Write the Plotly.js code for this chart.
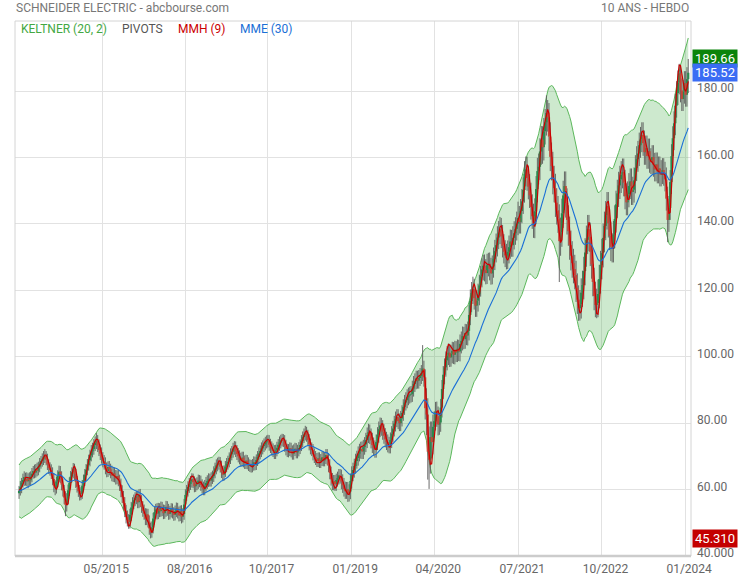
<!DOCTYPE html>
<html><head><meta charset="utf-8">
<script src="https://cdn.plot.ly/plotly-3.0.1.min.js"></script>
<style>html,body{margin:0;padding:0;background:#fff}#chart{width:740px;height:580px}</style>
</head><body><div id="chart"></div>
<script>
// Weekly candles, first week starting Monday 17 Feb 2014
const firstWeek = '2014-02-17';

const opens = [
58.9,59.6,60.8,62.1,62.9,63.8,63.2,62.5,63.4,62.8,
63.9,64.8,65.6,65.1,66.2,65.7,66.9,67.8,68.6,69.1,
69.8,70.1,69.0,67.6,66.5,65.9,65.0,63.2,61.0,60.6,
62.4,64.1,65.4,63.8,61.5,59.7,57.6,55.4,57.2,59.8,
62.0,63.9,65.2,66.1,64.7,62.3,60.8,59.6,58.6,58.9,
61.2,62.8,64.5,66.0,67.4,68.8,70.3,71.5,72.2,73.4,
74.1,74.6,73.2,71.9,70.8,69.6,68.5,68.0,66.4,65.6,
66.8,66.1,65.3,64.2,64.9,64.0,63.4,64.1,62.8,61.5,
59.6,57.8,55.9,53.6,51.8,50.9,50.2,52.4,54.6,55.9,
56.8,57.4,57.9,56.2,58.4,56.5,54.8,53.6,52.7,51.2,
52.5,50.4,48.3,47.1,48.6,51.3,53.2,54.0,52.8,54.2,
53.5,54.6,53.8,52.9,53.6,54.8,53.9,52.7,53.4,54.1,
53.0,52.4,53.5,54.3,53.1,52.2,53.5,51.8,52.6,55.5,
58.4,59.6,60.8,61.7,62.4,63.1,62.2,61.0,61.6,62.0,
62.7,62.5,61.4,60.6,60.1,61.2,62.0,62.6,63.1,62.7,
63.5,64.0,65.2,66.4,67.3,67.8,68.1,66.9,65.3,64.5,
65.6,66.9,67.8,68.4,69.5,70.6,71.4,72.3,72.8,71.6,
70.7,70.0,69.4,68.8,69.6,68.5,68.0,68.7,67.9,67.4,
67.1,66.9,67.5,68.2,67.6,68.9,69.8,70.9,71.6,72.4,
73.1,73.6,74.2,74.5,74.7,73.5,72.8,72.1,71.6,71.0,
71.8,72.6,73.5,74.2,74.8,75.0,74.6,73.2,72.1,71.6,
71.9,72.4,71.5,70.8,71.9,72.3,71.2,71.8,72.5,73.4,
74.6,75.8,76.6,77.1,76.2,74.9,73.6,72.4,71.9,70.6,
69.8,69.2,68.6,69.4,68.3,68.9,69.7,68.8,69.5,70.4,
69.1,67.2,65.0,63.1,61.8,62.5,61.6,62.9,63.5,64.3,
63.8,62.4,61.3,60.2,59.5,60.1,58.8,59.4,62.6,64.8,
65.9,67.1,68.6,69.5,70.8,71.6,72.2,71.5,72.8,73.6,
74.9,76.4,77.3,76.1,74.8,73.4,72.5,72.0,74.3,76.5,
78.2,79.3,78.6,77.4,76.2,75.1,74.3,73.6,73.3,74.9,
76.8,78.4,79.9,81.2,81.8,80.6,80.0,81.4,83.1,84.9,
86.2,86.9,87.8,88.3,88.6,88.8,90.4,91.8,92.6,93.4,
92.8,93.6,94.2,95.1,96.4,93.8,84.5,82.6,71.4,69.0,
75.8,74.3,78.9,80.6,83.4,82.1,79.6,80.2,84.7,90.3,
94.6,96.8,98.9,100.4,101.2,99.8,100.9,101.8,100.6,102.1,
101.3,102.4,101.6,103.9,104.8,106.2,105.3,107.1,106.4,107.8,
112.6,116.8,119.2,120.3,117.6,115.4,116.9,118.8,121.5,124.2,
126.3,127.4,126.1,125.2,127.6,128.0,126.4,125.1,127.2,129.5,
131.8,133.6,135.9,137.4,138.3,136.2,133.4,131.6,130.5,129.8,
131.6,133.0,134.7,133.6,135.8,137.2,138.5,140.1,141.8,140.6,
143.9,146.8,150.2,155.1,156.4,153.8,151.2,148.6,145.1,142.3,
139.6,143.8,150.5,155.9,157.2,161.8,165.4,163.1,167.9,170.6,
173.4,172.1,166.3,160.2,157.4,153.2,150.8,146.4,144.1,141.6,
134.8,137.5,143.2,148.6,151.4,146.3,141.2,137.8,133.6,130.4,
128.2,126.4,124.6,120.8,117.2,114.6,115.8,119.3,121.6,125.8,
131.4,135.2,138.4,136.1,131.6,127.8,122.5,118.3,115.6,116.2,
118.9,123.4,127.6,131.2,135.8,139.4,142.6,145.3,140.2,136.4,
133.1,132.5,136.8,141.5,145.9,149.2,151.6,153.4,154.8,155.6,
152.4,148.3,146.5,148.9,151.4,152.8,149.6,150.3,153.1,156.8,
159.5,161.2,163.7,165.4,166.8,164.3,161.6,162.8,160.4,161.9,
159.2,158.6,160.1,157.8,156.4,157.9,155.8,156.7,154.9,155.6,
156.2,155.1,153.4,147.6,141.2,144.8,152.6,160.4,165.8,170.3,
175.6,179.4,182.6,185.3,180.2,177.6,179.8,182.4,178.9,183.6
];

const highs = [
61.1,62.6,63.5,64.8,65.5,65.1,65.2,64.9,65.2,65.5,
66.5,67.1,67.5,67.7,68.1,68.4,69.5,70.1,70.9,71.6,
72.2,71.6,70.8,69.1,68.2,67.6,66.7,64.9,62.8,63.9,
65.8,67.2,67.1,65.5,63.3,61.4,59.5,58.9,61.5,63.7,
65.6,66.7,68.0,67.8,66.2,64.1,62.5,61.4,60.7,62.9,
64.5,66.2,67.7,69.2,70.5,72.0,73.4,74.1,75.2,76.0,
77.0,76.4,75.1,73.6,72.7,71.3,70.4,69.7,68.2,68.5,
68.6,67.8,67.2,66.7,66.6,65.9,65.8,66.0,64.5,63.3,
61.3,59.6,57.7,55.4,53.7,52.6,54.2,56.3,57.7,58.5,
59.2,59.6,59.7,60.1,60.2,58.3,56.5,55.5,54.4,54.3,
54.2,52.2,50.0,50.4,53.0,54.9,55.7,55.9,56.0,55.9,
56.4,56.3,55.5,55.4,56.6,56.5,55.7,55.1,55.9,55.8,
54.7,55.2,56.1,56.0,54.9,55.2,55.3,54.4,57.2,60.1,
61.4,62.5,63.5,64.1,64.9,64.8,64.0,63.4,63.7,64.5,
64.4,64.2,63.1,62.4,62.9,63.8,64.3,64.9,64.8,65.2,
65.7,67.0,68.1,69.1,69.6,69.9,69.8,68.7,67.1,67.3,
68.6,69.5,70.2,71.2,72.4,73.1,74.1,74.6,74.5,73.4,
72.5,71.8,71.1,71.4,71.4,70.3,70.5,70.4,69.7,69.1,
68.9,69.2,70.0,69.9,70.6,71.6,72.7,73.3,74.2,74.8,
75.4,75.9,76.3,76.5,76.4,75.3,74.5,73.9,73.4,73.5,
74.4,75.2,76.0,76.5,76.8,76.7,76.4,75.0,73.8,73.7,
74.2,74.1,73.3,73.6,74.1,74.0,73.5,74.3,75.1,76.4,
77.5,78.4,79.2,78.9,78.0,76.7,75.4,74.2,73.7,72.4,
71.6,71.0,71.2,71.2,70.7,71.5,71.5,71.3,72.2,72.2,
70.9,69.1,66.9,65.0,64.4,64.4,64.8,65.4,66.2,66.2,
66.0,64.6,63.5,62.4,62.3,62.3,61.6,64.8,67.0,68.1,
69.3,70.8,71.7,73.0,73.8,74.4,74.5,75.0,75.8,77.1,
78.7,79.8,79.6,78.4,77.1,75.7,74.8,76.6,78.8,80.5,
81.7,81.6,80.9,79.7,78.5,77.4,76.6,75.9,77.2,79.1,
80.7,82.2,83.5,84.2,84.2,82.9,83.7,85.4,87.2,88.5,
89.3,90.2,90.7,91.0,91.2,92.8,94.2,95.0,95.8,95.8,
96.0,96.6,97.5,103.5,98.8,96.2,90.5,87.5,79.0,80.5,
80.5,82.6,83.6,86.4,86.5,85.0,83.1,87.3,93.0,97.2,
99.5,101.6,103.2,104.0,103.9,103.6,104.5,104.4,104.8,104.7,
105.2,105.1,106.7,107.6,109.1,109.0,109.9,109.8,110.6,115.5,
120.3,122.5,124.1,123.5,120.7,120.0,122.0,124.7,127.4,129.6,
130.7,130.8,129.4,131.0,131.3,131.4,129.8,130.5,132.9,135.2,
137.1,139.3,140.9,142.1,141.8,139.7,136.9,135.1,134.0,135.0,
136.5,138.3,138.2,139.3,140.8,142.0,143.7,146.7,145.4,147.5,
150.5,154.0,158.9,160.3,160.2,157.6,155.0,152.4,148.9,146.1,
147.7,154.4,159.9,161.2,165.8,169.5,169.4,171.9,174.6,178.7,
177.3,176.4,170.6,164.5,161.7,157.5,155.1,150.7,148.4,145.9,
141.9,147.6,153.0,155.8,155.8,150.7,145.6,142.2,138.0,134.8,
132.5,130.7,128.9,125.1,121.5,120.1,123.6,125.9,130.1,135.7,
139.5,142.7,142.7,140.4,135.9,132.1,126.8,122.6,120.5,123.2,
127.7,131.9,135.5,140.1,143.7,146.9,149.6,149.6,144.5,140.7,
137.2,140.9,145.6,150.0,153.3,155.7,157.5,158.9,159.7,159.7,
156.3,152.2,152.8,155.3,156.7,156.7,154.2,157.0,160.7,163.4,
165.0,167.5,169.2,170.6,170.6,168.1,166.6,166.6,165.7,165.7,
162.8,163.7,163.7,161.4,161.5,161.5,160.3,160.3,159.2,159.8,
159.8,158.7,157.0,151.2,148.4,156.2,164.0,169.4,173.9,179.2,
183.0,186.2,188.2,187.9,183.8,183.4,186.0,186.0,187.2,189.66
];

const lows = [
57.2,58.2,58.9,60.6,61.1,61.2,61.0,60.4,61.2,61.4,
62.2,63.3,63.4,63.6,64.0,64.3,65.2,66.3,66.9,67.4,
68.0,67.3,65.9,64.7,64.2,63.2,61.4,59.2,58.3,58.8,
60.7,62.3,62.0,59.8,57.9,55.6,52.0,53.4,55.5,58.1,
60.3,62.2,63.4,62.9,60.5,59.1,57.8,56.7,56.8,57.2,
59.5,61.1,62.7,64.3,65.7,67.0,68.5,69.7,70.5,71.6,
72.2,71.3,70.1,68.9,67.8,66.7,66.0,64.6,63.7,63.8,
64.3,63.4,62.5,62.3,62.2,61.5,61.6,61.0,59.6,57.7,
56.0,53.9,51.7,49.8,48.9,48.2,48.3,50.6,52.7,54.1,
55.0,55.6,54.4,54.4,54.7,53.0,51.8,50.9,49.3,49.3,
48.6,46.4,45.31,45.5,46.8,49.5,51.4,51.0,51.1,51.7,
51.8,52.0,51.1,51.2,51.8,52.1,50.9,51.0,51.6,51.3,
50.6,50.7,51.7,51.3,50.4,50.5,49.8,50.1,50.9,53.7,
56.6,57.9,59.0,59.9,60.6,60.4,59.2,59.3,59.8,60.2,
60.7,59.6,58.8,58.3,58.3,59.4,60.2,60.8,60.9,60.9,
61.7,62.3,63.4,64.6,65.5,66.0,65.1,63.5,62.7,62.7,
63.8,65.2,66.0,66.7,67.7,68.8,69.6,70.5,69.8,68.9,
68.2,67.6,67.0,67.0,66.7,66.2,66.2,66.1,65.6,65.3,
65.1,65.2,65.7,65.8,65.9,67.1,68.0,69.1,69.8,70.6,
71.3,71.8,72.4,72.7,71.7,71.0,70.3,69.8,69.2,69.2,
70.0,70.8,71.7,72.4,73.0,72.8,71.4,70.3,69.8,69.7,
70.1,69.7,69.0,69.0,70.1,69.4,69.4,70.0,70.7,71.6,
72.8,74.0,74.8,74.4,73.1,71.8,70.6,70.1,68.8,68.0,
67.4,66.8,66.8,66.5,66.5,67.1,67.0,67.0,67.7,67.3,
65.3,63.1,61.2,59.8,59.8,59.6,59.6,60.9,61.5,61.8,
60.1,59.0,57.9,57.2,57.2,56.3,56.4,57.1,60.3,62.5,
63.6,64.8,66.3,67.2,68.5,69.3,69.2,69.2,70.5,71.3,
72.5,74.0,73.7,72.4,71.0,70.1,69.6,69.6,71.9,74.1,
75.8,76.2,75.0,73.8,72.7,71.9,71.2,70.9,70.9,72.5,
74.4,76.0,77.5,78.8,78.2,77.6,77.6,79.0,80.7,82.5,
83.8,84.5,85.4,85.9,86.2,86.4,88.0,89.4,90.2,90.4,
90.4,91.2,91.8,92.7,91.0,81.1,76.4,63.0,60.2,64.8,
69.4,70.6,75.7,77.8,78.9,76.3,76.5,77.4,81.7,87.3,
91.7,94.0,95.9,97.5,96.9,97.0,98.0,97.8,97.7,98.4,
98.4,98.7,98.6,101.0,101.9,102.3,102.4,103.5,103.4,104.9,
109.5,113.4,115.9,114.2,112.0,112.0,113.6,115.5,118.1,120.9,
123.0,122.7,121.8,121.9,124.2,123.0,121.7,121.8,123.8,126.1,
128.4,130.2,132.4,133.9,132.7,129.9,128.1,127.0,126.3,126.4,
128.1,129.5,130.1,130.1,132.3,133.7,135.0,136.6,137.1,137.1,
140.2,143.0,146.4,151.3,150.0,147.4,144.8,141.3,138.5,135.8,
135.7,139.9,146.5,151.9,153.2,157.8,158.1,159.1,163.9,166.6,
167.8,162.0,155.9,153.1,148.9,146.5,142.1,139.8,137.3,122.5,
130.4,133.1,138.8,144.2,141.9,136.8,133.4,129.2,126.0,123.8,
122.1,120.3,116.5,112.9,110.8,110.9,111.5,115.0,117.3,121.5,
127.1,130.9,131.8,127.3,123.5,118.2,114.0,111.9,111.6,111.9,
114.6,119.1,123.3,126.9,131.5,135.1,138.3,135.9,132.1,128.8,
128.4,128.4,132.7,137.4,141.8,145.1,147.5,149.3,150.7,148.3,
144.4,142.6,142.6,145.0,147.5,145.7,145.7,146.4,149.2,152.9,
155.7,157.4,159.9,161.6,160.5,157.8,157.8,156.6,156.6,155.4,
155.0,155.0,154.2,152.8,152.8,152.2,152.2,151.3,151.3,152.0,
151.5,149.8,144.0,134.5,137.6,141.2,149.0,156.8,162.2,166.7,
172.0,175.8,179.0,176.6,174.0,174.0,176.2,175.3,175.3,179.4
];

const closes = [
59.6,60.8,62.1,62.9,63.8,63.2,62.5,63.4,62.8,63.9,
64.8,65.6,65.1,66.2,65.7,66.9,67.8,68.6,69.1,69.8,
70.1,69.0,67.6,66.5,65.9,65.0,63.2,61.0,60.6,62.4,
64.1,65.4,63.8,61.5,59.7,57.6,55.4,57.2,59.8,62.0,
63.9,65.2,66.1,64.7,62.3,60.8,59.6,58.6,58.9,61.2,
62.8,64.5,66.0,67.4,68.8,70.3,71.5,72.2,73.4,74.1,
74.6,73.2,71.9,70.8,69.6,68.5,68.0,66.4,65.6,66.8,
66.1,65.3,64.2,64.9,64.0,63.4,64.1,62.8,61.5,59.6,
57.8,55.9,53.6,51.8,50.9,50.2,52.4,54.6,55.9,56.8,
57.4,57.9,56.2,58.4,56.5,54.8,53.6,52.7,51.2,52.5,
50.4,48.3,47.1,48.6,51.3,53.2,54.0,52.8,54.2,53.5,
54.6,53.8,52.9,53.6,54.8,53.9,52.7,53.4,54.1,53.0,
52.4,53.5,54.3,53.1,52.2,53.5,51.8,52.6,55.5,58.4,
59.6,60.8,61.7,62.4,63.1,62.2,61.0,61.6,62.0,62.7,
62.5,61.4,60.6,60.1,61.2,62.0,62.6,63.1,62.7,63.5,
64.0,65.2,66.4,67.3,67.8,68.1,66.9,65.3,64.5,65.6,
66.9,67.8,68.4,69.5,70.6,71.4,72.3,72.8,71.6,70.7,
70.0,69.4,68.8,69.6,68.5,68.0,68.7,67.9,67.4,67.1,
66.9,67.5,68.2,67.6,68.9,69.8,70.9,71.6,72.4,73.1,
73.6,74.2,74.5,74.7,73.5,72.8,72.1,71.6,71.0,71.8,
72.6,73.5,74.2,74.8,75.0,74.6,73.2,72.1,71.6,71.9,
72.4,71.5,70.8,71.9,72.3,71.2,71.8,72.5,73.4,74.6,
75.8,76.6,77.1,76.2,74.9,73.6,72.4,71.9,70.6,69.8,
69.2,68.6,69.4,68.3,68.9,69.7,68.8,69.5,70.4,69.1,
67.2,65.0,63.1,61.8,62.5,61.6,62.9,63.5,64.3,63.8,
62.4,61.3,60.2,59.5,60.1,58.8,59.4,62.6,64.8,65.9,
67.1,68.6,69.5,70.8,71.6,72.2,71.5,72.8,73.6,74.9,
76.4,77.3,76.1,74.8,73.4,72.5,72.0,74.3,76.5,78.2,
79.3,78.6,77.4,76.2,75.1,74.3,73.6,73.3,74.9,76.8,
78.4,79.9,81.2,81.8,80.6,80.0,81.4,83.1,84.9,86.2,
86.9,87.8,88.3,88.6,88.8,90.4,91.8,92.6,93.4,92.8,
93.6,94.2,95.1,96.4,93.8,84.5,82.6,71.4,69.0,75.8,
74.3,78.9,80.6,83.4,82.1,79.6,80.2,84.7,90.3,94.6,
96.8,98.9,100.4,101.2,99.8,100.9,101.8,100.6,102.1,101.3,
102.4,101.6,103.9,104.8,106.2,105.3,107.1,106.4,107.8,112.6,
116.8,119.2,120.3,117.6,115.4,116.9,118.8,121.5,124.2,126.3,
127.4,126.1,125.2,127.6,128.0,126.4,125.1,127.2,129.5,131.8,
133.6,135.9,137.4,138.3,136.2,133.4,131.6,130.5,129.8,131.6,
133.0,134.7,133.6,135.8,137.2,138.5,140.1,141.8,140.6,143.9,
146.8,150.2,155.1,156.4,153.8,151.2,148.6,145.1,142.3,139.6,
143.8,150.5,155.9,157.2,161.8,165.4,163.1,167.9,170.6,173.4,
172.1,166.3,160.2,157.4,153.2,150.8,146.4,144.1,141.6,134.8,
137.5,143.2,148.6,151.4,146.3,141.2,137.8,133.6,130.4,128.2,
126.4,124.6,120.8,117.2,114.6,115.8,119.3,121.6,125.8,131.4,
135.2,138.4,136.1,131.6,127.8,122.5,118.3,115.6,116.2,118.9,
123.4,127.6,131.2,135.8,139.4,142.6,145.3,140.2,136.4,133.1,
132.5,136.8,141.5,145.9,149.2,151.6,153.4,154.8,155.6,152.4,
148.3,146.5,148.9,151.4,152.8,149.6,150.3,153.1,156.8,159.5,
161.2,163.7,165.4,166.8,164.3,161.6,162.8,160.4,161.9,159.2,
158.6,160.1,157.8,156.4,157.9,155.8,156.7,154.9,155.6,156.2,
155.1,153.4,147.6,141.2,144.8,152.6,160.4,165.8,170.3,175.6,
179.4,182.6,185.3,180.2,177.6,179.8,182.4,178.9,183.6,185.52
];

const xTickDates = ['2015-05-15','2016-08-10','2017-10-28','2019-01-25','2020-04-20','2021-07-20','2022-10-15','2024-01-12'];
const xTickText  = ['05/2015','08/2016','10/2017','01/2019','04/2020','07/2021','10/2022','01/2024'];
const yTickVals  = [40,60,80,100,120,140,160,180];
const yTickText  = ['40.000','60.00','80.00','100.00','120.00','140.00','160.00','180.00'];

// ---- dates ----
const t0 = Date.parse(firstWeek + 'T00:00:00Z');
const dates = closes.map((_, i) => new Date(t0 + i * 7 * 864e5).toISOString().slice(0, 10));

// ---- indicators (computed from the candles) ----
function ema(arr, n) {
  const a = 2 / (n + 1); let e = arr[0];
  return arr.map((v, i) => (e = i ? a * v + (1 - a) * e : v));
}
function wma(arr, n) {
  return arr.map((v, i) => {
    let s = 0, w = 0;
    for (let k = 0; k < n && i - k >= 0; k++) { s += arr[i - k] * (n - k); w += (n - k); }
    return s / w;
  });
}
const w4 = wma(closes, 4), w9 = wma(closes, 9);
const hma = wma(w4.map((v, i) => 2 * v - w9[i]), 3);
const ema30 = ema(closes, 30);
const mid20 = ema(closes, 20);
const tr = closes.map((c, i) => i ? Math.max(highs[i], closes[i - 1]) - Math.min(lows[i], closes[i - 1]) : highs[i] - lows[i]);
const atr = tr.map((_, i) => { let s = 0, n = 0; for (let k = Math.max(0, i - 19); k <= i; k++) { s += tr[k]; n++; } return s / n; });
const kUp = mid20.map((m, i) => m + 2 * atr[i]);
const kLo = mid20.map((m, i) => m - 2 * atr[i]);

// ---- candle geometry ----
const wx = [], wy = [], ux = [], uy = [], dx = [], dy = [];
dates.forEach((d, i) => {
  wx.push(d, d, null); wy.push(lows[i], highs[i], null);
  if (closes[i] >= opens[i]) { ux.push(d, d, null); uy.push(opens[i], closes[i], null); }
  else { dx.push(d, d, null); dy.push(opens[i], closes[i], null); }
});

const maxHigh = Math.max(...highs), minLow = Math.min(...lows), lastClose = closes[closes.length - 1];

const traces = [
  {x: dates, y: kLo, mode: 'lines', line: {color: '#5cb85c', width: 1}, hoverinfo: 'skip'},
  {x: dates, y: kUp, mode: 'lines', fill: 'tonexty', fillcolor: 'rgba(76,175,80,0.28)', line: {color: '#5cb85c', width: 1}, hoverinfo: 'skip'},
  {x: wx, y: wy, mode: 'lines', line: {color: '#5a5a5a', width: 0.9}, hoverinfo: 'skip'},
  {x: ux, y: uy, mode: 'lines', line: {color: '#2a8a4e', width: 2.2}, hoverinfo: 'skip'},
  {x: dx, y: dy, mode: 'lines', line: {color: '#c4473a', width: 2.2}, hoverinfo: 'skip'},
  {x: dates, y: hma, mode: 'lines', line: {color: '#cc0000', width: 1.2}, hoverinfo: 'skip'},
  {x: dates, y: ema30, mode: 'lines', line: {color: '#1a6fd6', width: 1.1}, hoverinfo: 'skip'}
];

const F = 'Roboto, sans-serif';
function legendItem(text, color, px) {
  return {text, xref: 'paper', yref: 'paper', x: (px - 15) / 676, y: 1, xanchor: 'left', yanchor: 'middle', yshift: -8,
          showarrow: false, font: {family: F, size: 12, color}};
}
function tag(val, text, bg) {
  return {text, xref: 'paper', yref: 'y', x: 1, y: val, xanchor: 'left', yanchor: 'middle', xshift: 1,
          showarrow: false, bgcolor: bg, borderpad: 1, width: 42, align: 'center',
          font: {family: F, size: 13, color: '#ffffff'}};
}

const layout = {
  width: 740, height: 580,
  margin: {l: 15, r: 49, t: 21, b: 24, pad: 0},
  paper_bgcolor: '#ffffff', plot_bgcolor: '#ffffff',
  showlegend: false,
  font: {family: F, size: 12, color: '#666666'},
  xaxis: {type: 'date', range: ['2014-01-26', '2024-02-13'], tickvals: xTickDates, ticktext: xTickText,
          showgrid: true, gridcolor: '#e2e2e2', gridwidth: 1, zeroline: false, showline: false, ticks: '',
          tickfont: {family: F, size: 12, color: '#666666'}, ticklabelshift: 4, ticklabelstandoff: 4},
  yaxis: {side: 'right', range: [40, 201.1], tickvals: yTickVals, ticktext: yTickText,
          showgrid: true, gridcolor: '#e2e2e2', gridwidth: 1, zeroline: false, showline: false, ticks: '',
          tickfont: {family: F, size: 12, color: '#666666'}, ticklabelstandoff: 5, ticklabelshift: -3},
  shapes: [
    {type: 'rect', xref: 'paper', yref: 'paper', x0: 0, x1: 1, y0: 0, y1: 1, line: {color: '#d4d4d4', width: 1}},
    {type: 'line', xref: 'paper', yref: 'paper', x0: 0, x1: 1, y0: 0, y1: 0, line: {color: '#cccccc', width: 2.5}}
  ],
  annotations: [
    {text: 'SCHNEIDER ELECTRIC - abcbourse.com', xref: 'paper', yref: 'paper', x: 0, y: 1, xanchor: 'left', yanchor: 'middle',
     yshift: 13, xshift: -1, showarrow: false, font: {family: F, size: 12, color: '#777777'}},
    {text: '10 ANS - HEBDO', xref: 'paper', yref: 'paper', x: 1, y: 1, xanchor: 'right', yanchor: 'middle',
     yshift: 13, showarrow: false, font: {family: F, size: 12, color: '#777777'}},
    legendItem('KELTNER (20, 2)', '#43a843', 19),
    legendItem('PIVOTS', '#555555', 120),
    legendItem('MMH (9)', '#cc0000', 176),
    legendItem('MME (30)', '#1a6fd6', 238),
    tag(maxHigh, maxHigh.toPrecision(5), '#0b840b'),
    tag(lastClose, lastClose.toPrecision(5), '#3a6cf4'),
    tag(minLow, minLow.toPrecision(5), '#c40000')
  ]
};

Plotly.newPlot('chart', traces, layout, {staticPlot: true, displayModeBar: false});
</script>
</body></html>
